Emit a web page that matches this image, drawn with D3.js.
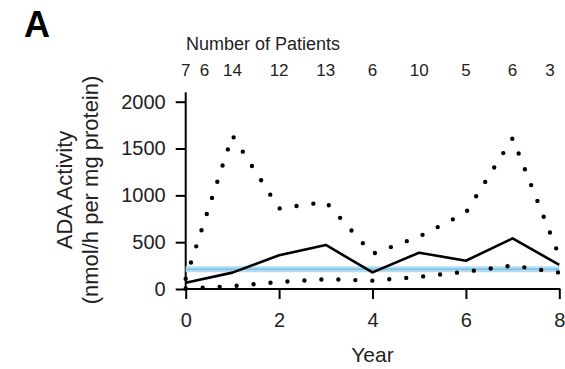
<!DOCTYPE html>
<html>
<head>
<meta charset="utf-8">
<script src="https://cdn.jsdelivr.net/npm/d3@7"></script>
<style>
  body { margin: 0; background: #fff; }
  svg { font-family: "Liberation Sans", Arial, sans-serif; }
</style>
</head>
<body>
<div id="main"></div>
<script>
// values
var years = [0, 1, 2, 3, 4, 5, 6, 7, 8];
var meanActivity = [67, 175, 360, 470, 178, 388, 302, 540, 258];
var upperActivity = [110, 1640, 860, 930, 375, 560, 815, 1610, 350];
var lowerActivity = [5, 30, 75, 105, 89, 130, 185, 250, 175];
var normalLevel = 210;
var patientYears = [0, 0.4, 1, 2, 3, 4, 5, 6, 7, 7.8];
var patientCounts = [7, 6, 14, 12, 13, 6, 10, 5, 6, 3];
var yTicks = [0, 500, 1000, 1500, 2000];
var xTicks = [0, 2, 4, 6, 8];

var width = 565, height = 369;

var svg = d3.select("#main")
  .append("svg")
  .attr("width", width)
  .attr("height", height);

var x = d3.scaleLinear()
  .domain([0, 8])
  .range([185.7, 559.3]);

var y = d3.scaleLinear()
  .domain([0, 2000])
  .range([289, 101.7]);

// panel letter
svg.append("text")
  .attr("x", 24)
  .attr("y", 37)
  .style("font-size", "36px")
  .style("font-weight", "bold")
  .text("A");

// Y axis
var yAxis = svg.append("g")
  .attr("transform", "translate(" + x(0) + ",0)")
  .call(d3.axisLeft(y).tickValues(yTicks).tickFormat(d3.format("d")).tickSize(10).tickPadding(10));
yAxis.select(".domain").remove();
yAxis.selectAll("line").attr("stroke-width", 2);
yAxis.selectAll("text").style("font-size", "20px").attr("fill", "#222");
yAxis.append("line")
  .attr("x1", 0).attr("x2", 0)
  .attr("y1", y(0)).attr("y2", y(2100))
  .attr("stroke", "#000").attr("stroke-width", 2);

// X axis
var xAxis = svg.append("g")
  .attr("transform", "translate(0," + y(0) + ")")
  .call(d3.axisBottom(x).tickValues(xTicks).tickFormat(d3.format("d")).tickSize(10).tickPadding(14));
xAxis.select(".domain").remove();
xAxis.selectAll("line").attr("stroke-width", 2);
xAxis.selectAll("text").style("font-size", "20px").attr("fill", "#222");
xAxis.append("line")
  .attr("x1", x(0) - 2).attr("x2", x(8) + 1)
  .attr("y1", 0).attr("y2", 0)
  .attr("stroke", "#000").attr("stroke-width", 2);

// axis titles
svg.append("text")
  .attr("x", x(4))
  .attr("y", 362)
  .attr("text-anchor", "middle")
  .style("font-size", "21px")
  .attr("fill", "#222")
  .text("Year");

var yTitle = svg.append("text")
  .attr("transform", "translate(72,190) rotate(-90)")
  .attr("text-anchor", "middle")
  .style("font-size", "22px")
  .attr("fill", "#222");
yTitle.append("tspan").attr("x", 0).attr("y", 0).text("ADA Activity");
yTitle.append("tspan").attr("x", 0).attr("y", 26).text("(nmol/h per mg protein)");

// number of patients on top
svg.append("text")
  .attr("x", 263)
  .attr("y", 50)
  .attr("text-anchor", "middle")
  .style("font-size", "18px")
  .attr("fill", "#222")
  .text("Number of Patients");

svg.selectAll(".npat")
  .data(patientCounts)
  .enter()
  .append("text")
  .attr("class", "npat")
  .attr("x", function (d, i) { return x(patientYears[i]); })
  .attr("y", 76)
  .attr("text-anchor", "middle")
  .style("font-size", "17px")
  .attr("fill", "#222")
  .text(function (d) { return d; });

// normal level (blue band)
svg.append("line")
  .attr("x1", x(0)).attr("x2", x(8))
  .attr("y1", y(normalLevel)).attr("y2", y(normalLevel))
  .attr("stroke", "#b3dcf2").attr("stroke-width", 6);
svg.append("line")
  .attr("x1", x(0)).attr("x2", x(8))
  .attr("y1", y(normalLevel)).attr("y2", y(normalLevel))
  .attr("stroke", "#7dbfe3").attr("stroke-width", 1.5);

var line = d3.line()
  .x(function (d, i) { return x(years[i]); })
  .y(function (d) { return y(d); });

// range lines (dotted)
[upperActivity, lowerActivity].forEach(function (vals) {
  svg.append("path")
    .datum(vals)
    .attr("fill", "none")
    .attr("stroke", "#000")
    .attr("stroke-width", 4.4)
    .attr("stroke-linecap", "round")
    .attr("stroke-dasharray", "0 17")
    .attr("d", line);
});

// mean line
svg.append("path")
  .datum(meanActivity)
  .attr("fill", "none")
  .attr("stroke", "#000")
  .attr("stroke-width", 2.6)
  .attr("stroke-linejoin", "round")
  .attr("d", line);
</script>
</body>
</html>
